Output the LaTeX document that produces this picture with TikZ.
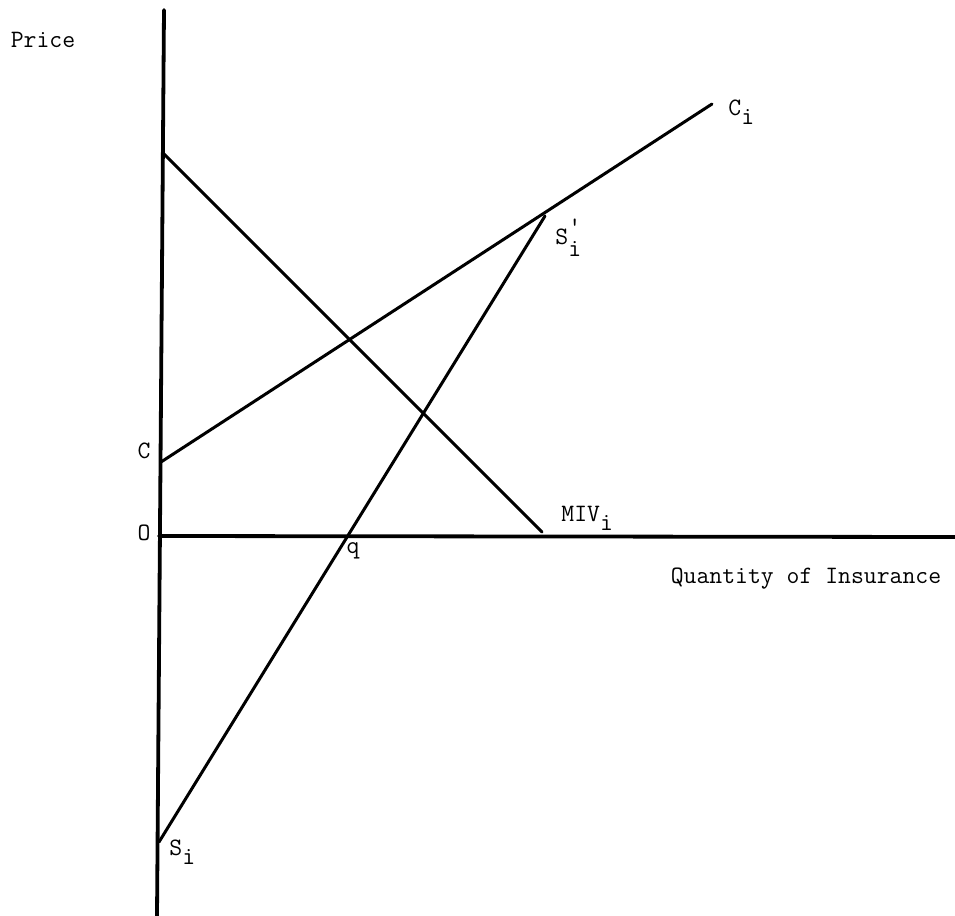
\documentclass[tikz,border=0pt]{standalone}
\usepackage{fontspec}
\usepackage{tikz}
\usetikzlibrary{positioning,calc}
\newcommand{\subi}[1]{#1\raisebox{-0.85ex}{i}}
\newcommand{\primesubi}[1]{#1\raisebox{-1.1ex}{\shortstack[l]{'\\[0.1ex]i}}}

\begin{document}
\begin{tikzpicture}[
  x=0.5pt,y=-0.5pt,
  axis/.style={line width=1.9pt,line cap=round},
  curve/.style={line width=1.5pt,line cap=round},
  lbl/.style={font=\ttfamily\fontsize{12.5}{14}\selectfont,inner sep=0pt}
]
\useasboundingbox (0,0) rectangle (955,916);
% axes
\coordinate (ytop) at (164,10);
\coordinate (ybot) at (157,916);
\coordinate (orig) at (159,536);
\coordinate (xend) at (955,537);
\draw[axis] (ytop) -- (ybot);
\draw[axis] (orig) -- (xend);
% curves
\coordinate (miv0) at (163,153);
\coordinate (miv1) at (542,532);
\coordinate (c0) at (161,462);
\coordinate (c1) at (712,104);
\coordinate (s0) at (159,842);
\coordinate (s1) at (545,216);
\draw[curve] (miv0) -- (miv1);
\draw[curve] (c0) -- (c1);
\draw[curve] (s0) -- (s1);
% labels
\node[lbl] (price) at (43,40) {Price};
\node[lbl,anchor=west] (ci) at (728,112) {\subi{C}};
\node[lbl,anchor=west] (sip) at (555,238) {\primesubi{S}};
\node[lbl] (cc) at (144,451) {C};
\node[lbl] (oo) at (144,533) {O};
\node[lbl,anchor=west] (mivi) at (561,518) {\subi{MIV}};
\node[lbl] (qq) at (353,551) {q};
\node[lbl,anchor=west] (si) at (169,852) {\subi{S}};
\node[lbl] (qty) at (806,579) {Quantity of Insurance};
\end{tikzpicture}
\end{document}
